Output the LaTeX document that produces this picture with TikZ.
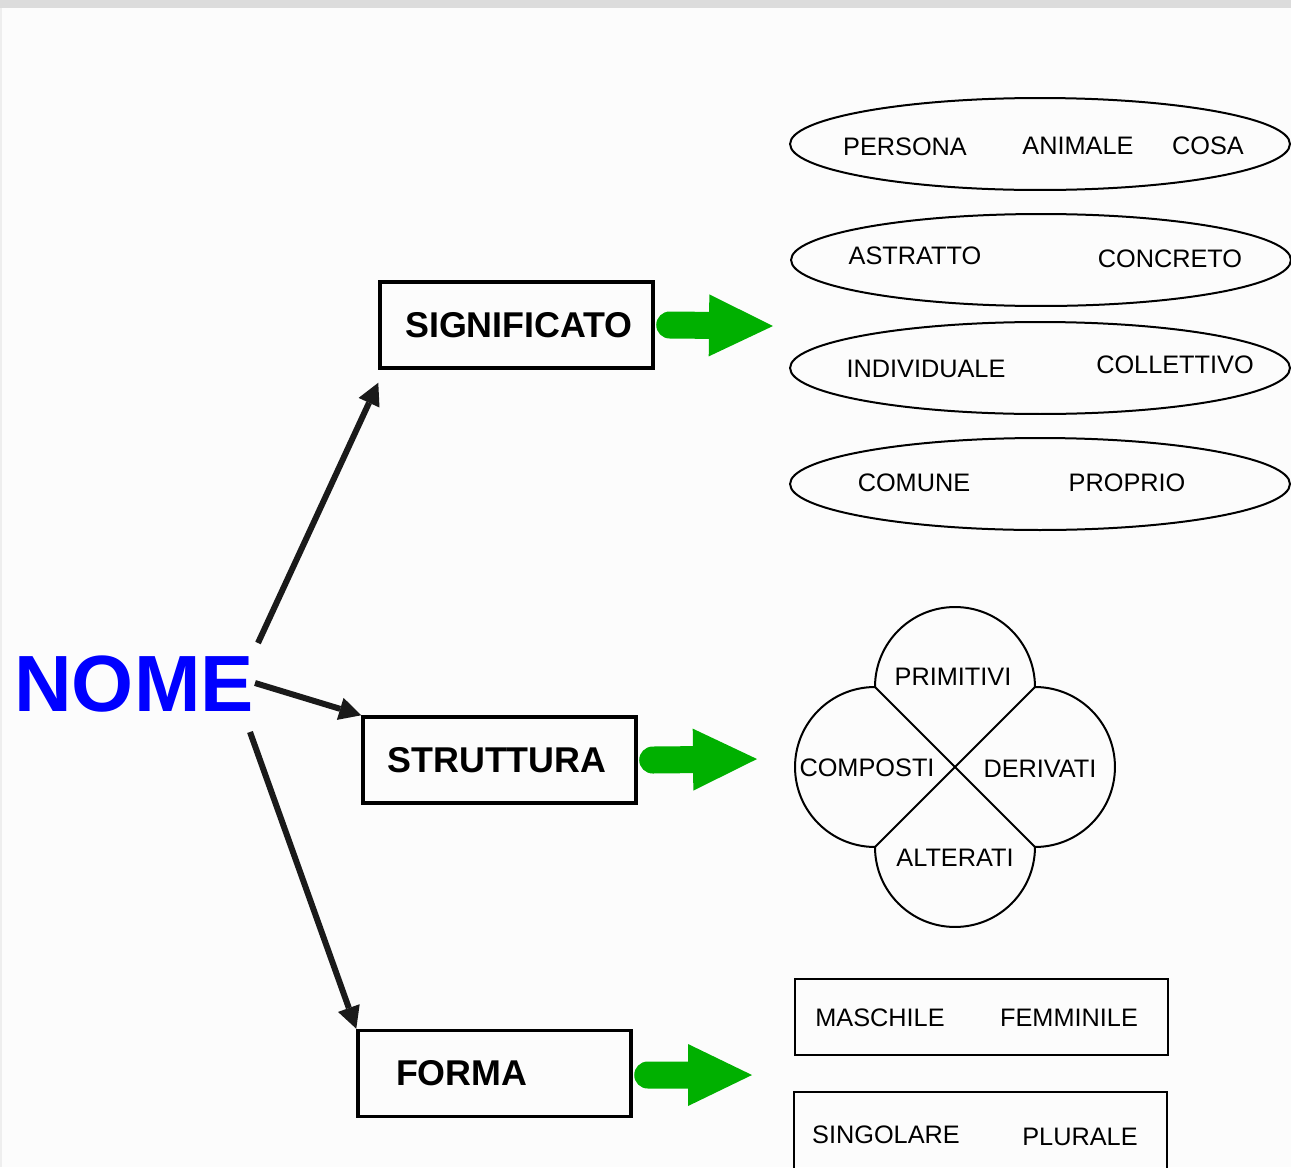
\documentclass[tikz,border=0pt]{standalone}
\usepackage{fontspec}
\setmainfont{Liberation Sans}
\usetikzlibrary{arrows.meta,shapes.geometric}
\definecolor{nomeblue}{RGB}{0,0,255}
\definecolor{fatgreen}{RGB}{0,176,0}
\definecolor{pagebg}{RGB}{252,252,252}
\definecolor{stripgray}{RGB}{220,220,220}
\definecolor{edgegray}{RGB}{238,238,238}
\definecolor{inkblack}{RGB}{26,26,26}

\begin{document}
\begin{tikzpicture}[x=0.02cm, y=-0.02cm,
			box/.style={draw, line width=0.07cm, minimum width=5.46cm, minimum height=1.72cm, inner sep=0pt, font=\fontsize{20.4}{23}\selectfont\bfseries},
			oval/.style={ellipse, draw, line width=0.04cm, minimum width=10cm, minimum height=1.84cm, inner sep=0pt},
			frame/.style={draw, line width=0.04cm, minimum width=7.46cm, inner sep=0pt},
			word/.style={inner sep=0pt, font=\fontsize{14.4}{16}\selectfont},
			link/.style={inkblack, line width=0.12cm, -{Triangle[length=0.44cm, width=0.46cm, line width=0pt]}},
			fatarrow/.style={fatgreen, line width=0.54cm, line cap=round, -{Triangle[length=1.28cm, width=1.24cm, line width=0pt]}},
		]
		\useasboundingbox (0,0) rectangle (1291,1167);
		\fill[pagebg] (0,0) rectangle (1291,1167);
		\fill[stripgray] (0,0) rectangle (1291,8);
		\fill[edgegray] (0,8) rectangle (2,1167);

		\node[inner sep=0pt, text=nomeblue, font=\fontsize{45.4}{50}\selectfont\bfseries] (nome) at (134,684) {NOME};

		\node[box] (sig) at (516.5,325) {\hspace*{0.1cm}SIGNIFICATO};
		\node[box] (str) at (499.5,760) {\hspace*{-0.1cm}STRUTTURA};
		\node[box, text width=3.94cm, inner xsep=0.76cm, align=left] (form) at (494.5,1073.5) {FORMA};

		\coordinate (n1) at (258,643);
		\coordinate (n2) at (255,683);
		\coordinate (n3) at (250,732);
		\draw[link] (n1) -- ([yshift=-0.26cm]sig.south west);
		\draw[link] (n2) -- (str.north west);
		\draw[link] (n3) -- (form.north west);

		% green arrows
		\coordinate (g1) at (773,326);
		\coordinate (g2) at (757,759);
		\coordinate (g3) at (752,1075);
		\draw[fatarrow] ([xshift=0.3cm]sig.east) -- (g1);
		\draw[fatarrow] ([xshift=0.3cm]str.east) -- (g2);
		\draw[fatarrow] ([xshift=0.3cm, yshift=-0.03cm]form.east) -- (g3);

		% significato
		\node[oval] (e1) at (1040,144) {};
		\node[oval] (e2) at (1041,260) {};
		\node[oval] (e3) at (1040,368) {};
		\node[oval] (e4) at (1040,484) {};
		\node[word] (persona) at (905,147) {PERSONA};
		\node[word] (animale) at (1078,146) {ANIMALE};
		\node[word] (cosa) at (1208,146) {COSA};
		\node[word] (astratto) at (915,256) {ASTRATTO};
		\node[word] (concreto) at (1170,259) {CONCRETO};
		\node[word] (individuale) at (926,369) {INDIVIDUALE};
		\node[word] (collettivo) at (1175,365) {COLLETTIVO};
		\node[word] (comune) at (914,483) {COMUNE};
		\node[word] (proprio) at (1127,483) {PROPRIO};

		% struttura
		\draw[line width=0.04cm] (875,687) arc[start angle=180, end angle=0, radius=1.6cm]
			arc[start angle=90, end angle=-90, radius=1.6cm]
			arc[start angle=0, end angle=-180, radius=1.6cm]
			arc[start angle=270, end angle=90, radius=1.6cm] -- cycle;
		\draw[line width=0.04cm] (875,687) -- (1035,847);
		\draw[line width=0.04cm] (1035,687) -- (875,847);
		\node[word] (primitivi) at (953,677) {PRIMITIVI};
		\node[word] (composti) at (867,768) {COMPOSTI};
		\node[word] (derivati) at (1040,769) {DERIVATI};
		\node[word] (alterati) at (955,858) {ALTERATI};

		% forma
		\node[frame, minimum height=1.52cm] (genere) at (981.5,1017) {};
		\node[frame, minimum height=1.76cm] (numero) at (980.5,1136) {};
		\node[word] (maschile) at (880,1018) {MASCHILE};
		\node[word] (femminile) at (1069,1018) {FEMMINILE};
		\node[word] (singolare) at (886,1135) {SINGOLARE};
		\node[word] (plurale) at (1080,1137) {PLURALE};
	\end{tikzpicture}
\end{document}
